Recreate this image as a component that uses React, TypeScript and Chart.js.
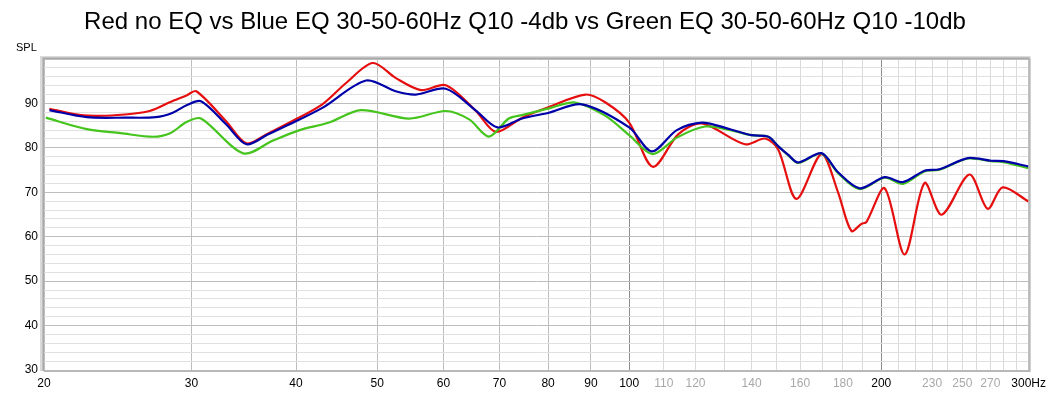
import { useEffect, useRef } from 'react';
import { Chart, registerables } from 'chart.js';

Chart.register(...registerables);

const titleText = 'Red no EQ vs Blue EQ 30-50-60Hz Q10 -4db vs Green EQ 30-50-60Hz Q10 -10db';
const yAxisTitle = 'SPL';

const xTickValues = [20, 30, 40, 50, 60, 70, 80, 90, 100, 110, 120, 130, 140, 150, 160, 170, 180, 190, 200, 210, 220, 230, 240, 250, 260, 270, 280, 290, 300];
const xLabelText: Record<number, string> = {
  20: '20', 30: '30', 40: '40', 50: '50', 60: '60', 70: '70', 80: '80', 90: '90', 100: '100',
  110: '110', 120: '120', 140: '140', 160: '160', 180: '180', 200: '200', 230: '230', 250: '250', 270: '270', 300: '300Hz',
};
const xGrayLabels = [110, 120, 140, 160, 180, 230, 250, 270];
const yLabelValues = [30, 40, 50, 60, 70, 80, 90];

const redFreq = [20.3, 22.3, 24.5, 26.75, 28.3, 29.6, 30.4, 33.0, 34.9, 37.0, 39.3, 43.0, 45.9, 49.4, 52.6, 56.4, 60.4, 65.6, 69.3, 74.5, 80.2, 88.7, 93.7, 100, 106.7, 114.5, 122.1, 137.5, 145.3, 150.6, 158.4, 169.7, 177.6, 184.2, 189.4, 192, 201.9, 213.3, 225.3, 236.2, 254.9, 268, 279.3, 300];
const redSpl = [88.8, 87.3, 87.4, 88.3, 90.3, 91.8, 92.75, 86.0, 81.0, 83.2, 85.7, 89.8, 94.6, 99.1, 95.75, 93.0, 94.1, 88.3, 83.6, 86.8, 89.2, 92.0, 90.2, 85.7, 75.75, 83.1, 85.5, 80.8, 82.1, 79.7, 68.5, 78.6, 70.0, 61.3, 62.9, 63.3, 70.9, 56.0, 72.1, 64.95, 74.0, 66.3, 71.1, 67.9];

const blueFreq = [20.3, 22.5, 25, 27.2, 28.5, 29.6, 30.8, 33.0, 34.9, 37.0, 39.3, 43.0, 48.5, 52.6, 55.6, 60.4, 65.6, 69.6, 74.5, 80.2, 87.8, 100, 106.4, 114, 122.1, 132, 140, 146.6, 150.6, 154.9, 159.2, 169.7, 177.6, 188.5, 201.9, 212.3, 225.3, 234.8, 253.8, 270.5, 280, 300];
const blueSpl = [88.5, 86.9, 86.8, 86.9, 87.9, 89.6, 90.5, 85.3, 80.8, 83.0, 85.3, 89.0, 95.15, 92.75, 92.0, 93.3, 88.4, 84.6, 86.6, 87.9, 89.8, 84.6, 79.2, 84.0, 85.7, 84.2, 82.85, 82.5, 80.4, 78.4, 76.7, 78.8, 74.5, 70.9, 73.4, 72.3, 74.85, 75.2, 77.7, 77.1, 77.0, 75.8];

const greenFreq = [20.1, 22.5, 24.7, 27.0, 28.3, 29.6, 30.8, 34.6, 37.5, 40.4, 43.8, 47.8, 54.6, 60.4, 64.4, 68.0, 71.8, 74.5, 80.2, 86.2, 93.7, 100, 106.7, 114, 123.2, 132, 140, 146.6, 150.6, 154.9, 159.2, 169.7, 177.6, 188.5, 201.9, 212.3, 225.3, 234.8, 253.8, 270.5, 280, 300];
const greenSpl = [86.8, 84.2, 83.3, 82.5, 83.3, 85.8, 86.6, 78.75, 81.6, 84.0, 85.7, 88.5, 86.6, 88.3, 86.4, 82.55, 86.6, 87.4, 88.9, 90.2, 87.2, 82.85, 78.6, 82.3, 84.8, 84.0, 82.85, 82.5, 80.4, 78.3, 76.6, 78.7, 74.3, 70.7, 73.3, 71.9, 74.7, 75.1, 77.6, 77.0, 76.8, 75.4];

const toPoints = (fs: number[], vs: number[]) => fs.map((f, i) => ({ x: f, y: vs[i] }));

const framePlugin = {
  id: 'rewFrame',
  beforeDraw(chart: any) {
    const { ctx, width, height } = chart;
    ctx.save();
    ctx.fillStyle = '#ffffff';
    ctx.fillRect(0, 0, width, height);
    ctx.restore();
  },
  afterDraw(chart: any) {
    const { ctx, chartArea: a } = chart;
    ctx.save();
    // title
    ctx.fillStyle = '#000';
    ctx.font = '24px "Liberation Sans", Arial, sans-serif';
    ctx.textAlign = 'center';
    ctx.textBaseline = 'middle';
    ctx.fillText(titleText, 525, 22);
    // SPL label
    ctx.font = '11px "Liberation Sans", Arial, sans-serif';
    ctx.textAlign = 'left';
    ctx.fillText(yAxisTitle, 16, 48);
    // frame shading
    ctx.fillStyle = '#dadada';
    ctx.fillRect(a.left - 4, a.top - 3, a.right - a.left + 6, 3);
    ctx.fillRect(a.left - 4, a.top - 3, 4, a.bottom - a.top + 4);
    ctx.fillStyle = '#c0c0c0';
    ctx.fillRect(a.left - 2, a.top - 2, a.right - a.left + 3, 1);
    ctx.fillRect(a.left - 2, a.top - 2, 1, a.bottom - a.top + 3);
    ctx.strokeStyle = '#a8a8a8';
    ctx.lineWidth = 1;
    ctx.strokeRect(a.left - 0.5, a.top - 0.5, a.right - a.left + 1, a.bottom - a.top + 1);
    ctx.fillStyle = '#b8b8b8';
    ctx.fillRect(a.left, a.bottom, a.right - a.left + 1, 2);
    ctx.fillRect(a.right, a.top, 2, a.bottom - a.top + 2);
    ctx.restore();
  },
};

export default function App() {
  const ref = useRef<HTMLCanvasElement>(null);
  useEffect(() => {
    const common = { borderWidth: 2.2, pointRadius: 0, tension: 0.3, fill: false };
    const chart = new Chart(ref.current as HTMLCanvasElement, {
      type: 'line',
      data: {
        datasets: [
          { label: 'Blue', data: toPoints(blueFreq, blueSpl), borderColor: '#0000a8', ...common },
          { label: 'Green', data: toPoints(greenFreq, greenSpl), borderColor: '#44c41c', ...common },
          { label: 'Red', data: toPoints(redFreq, redSpl), borderColor: '#e60f0f', ...common },
        ],
      },
      options: {
        animation: false,
        responsive: false,
        events: [],
        layout: { padding: { left: 0, top: 59, right: 22, bottom: 0 } },
        plugins: { legend: { display: false }, title: { display: false }, tooltip: { enabled: false } },
        scales: {
          x: {
            type: 'logarithmic',
            min: 20,
            max: 300,
            border: { display: false },
            afterBuildTicks: (scale: any) => {
              scale.ticks = xTickValues.map((v) => ({ value: v }));
            },
            afterFit: (scale: any) => {
              scale.height = 25;
            },
            grid: {
              drawTicks: false,
              color: (ctx: any) => {
                const v = ctx.tick ? ctx.tick.value : 0;
                if (v === 100 || v === 200) return '#8c8c8c';
                if (v <= 100) return '#bdbdbd';
                return '#dadada';
              },
            },
            ticks: {
              autoSkip: false,
              maxRotation: 0,
              padding: 6,
              font: { size: 12, family: '"Liberation Sans", Arial, sans-serif' },
              color: (ctx: any) => (xGrayLabels.includes(ctx.tick ? ctx.tick.value : 0) ? '#a8a8a8' : '#000000'),
              callback: (value: any) => xLabelText[Number(value)] ?? '',
            },
          },
          y: {
            type: 'linear',
            min: 30,
            max: 100,
            border: { display: false },
            afterFit: (scale: any) => {
              scale.width = 44;
            },
            grid: {
              drawTicks: false,
              color: (ctx: any) => {
                const v = ctx.tick ? ctx.tick.value : 0;
                return v % 10 === 0 ? '#bdbdbd' : '#e0e0e0';
              },
            },
            ticks: {
              stepSize: 2,
              autoSkip: false,
              padding: 6,
              font: { size: 12, family: '"Liberation Sans", Arial, sans-serif' },
              color: '#000000',
              callback: (value: any) => (yLabelValues.includes(Number(value)) ? String(value) : ''),
            },
          },
        },
      },
      plugins: [framePlugin],
    } as any);
    return () => chart.destroy();
  }, []);
  return (
    <div style={{ position: 'absolute', left: 0, top: 0, width: 1052, height: 395, background: '#fff' }}>
      <canvas ref={ref} width={1052} height={395} style={{ display: 'block' }} />
    </div>
  );
}
